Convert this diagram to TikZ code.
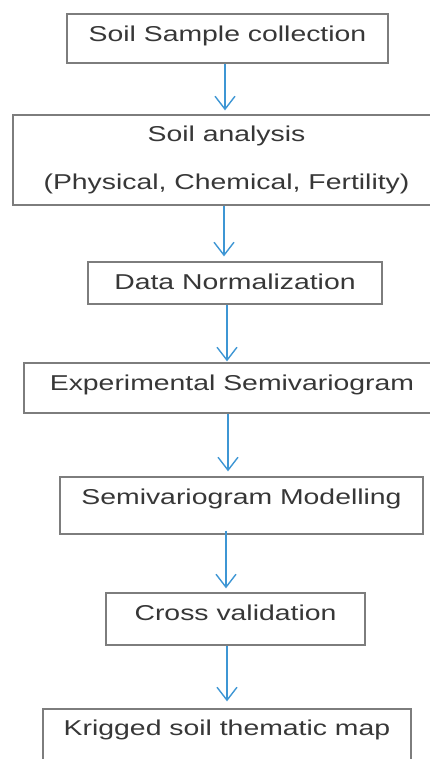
\documentclass[tikz,border=0pt]{standalone}
\usepackage{fontspec}
\setmainfont{Liberation Sans}[FakeStretch=1.32]
\usetikzlibrary{arrows.meta}
\definecolor{framegray}{RGB}{125,125,125}
\definecolor{textgray}{RGB}{55,55,55}
\definecolor{flowblue}{RGB}{62,150,212}
\tikzset{
  stage/.style={draw=framegray, line width=1.3pt, text=textgray,
    font=\fontsize{21.5}{26}\selectfont, inner sep=0pt},
  lifted/.style={text height=16pt, text depth=#1},
  flow/.style={draw=flowblue, line width=1.4pt,
    -{Straight Barb[length=13pt,width=20pt,line width=1.4pt]}}
}
\begin{document}
\begin{tikzpicture}[x=1pt,y=1pt]
      \useasboundingbox (0,0) rectangle (430,-759);
      \draw
        (227.5,-38.5) node[stage,lifted=9.5pt,minimum width=321pt,minimum height=49pt] (soil){Soil Sample collection}
        (226.5,-160) node[stage,align=center,minimum width=427pt,minimum height=90pt] (analysis){Soil analysis\\[22pt](Physical, Chemical, Fertility)}
        (235,-283) node[stage,lifted=3pt,minimum width=294pt,minimum height=42pt] (normal){Data Normalization}
        (232,-388) node[stage,lifted=10.5pt,minimum width=416pt,minimum height=50pt] (expvar){Experimental Semivariogram}
        (241.5,-505.5) node[stage,lifted=17.5pt,minimum width=363pt,minimum height=57pt] (model){Semivariogram Modelling}
        (235.5,-619) node[stage,lifted=13pt,minimum width=259pt,minimum height=52pt] (crossval){Cross validation}
        (227,-742) node[stage,lifted=28.5pt,minimum width=368pt,minimum height=66pt] (kriged){Krigged soil thematic map};
      \begin{scope}[flow]
        \draw[shorten >=4pt] ([xshift=-2.5pt]soil.south) to ([xshift=-2.5pt]soil.south |- analysis.north);
        \draw[shorten >=5pt] ([xshift=-2.5pt]analysis.south) to ([xshift=-2.5pt]analysis.south |- normal.north);
        \draw[shorten >=1pt] ([xshift=-8pt]normal.south) to ([xshift=-8pt]normal.south |- expvar.north);
        \draw[shorten >=5pt] ([xshift=-4pt]expvar.south) to ([xshift=-4pt]expvar.south |- model.north);
        \draw[shorten >=4pt] ([xshift=-15.5pt,yshift=4pt]model.south) to ([xshift=-15.5pt]model.south |- crossval.north);
        \draw[shorten >=7pt] ([xshift=-8.5pt]crossval.south) to ([xshift=-8.5pt]crossval.south |- kriged.north);
      \end{scope}
    \end{tikzpicture}
\end{document}
